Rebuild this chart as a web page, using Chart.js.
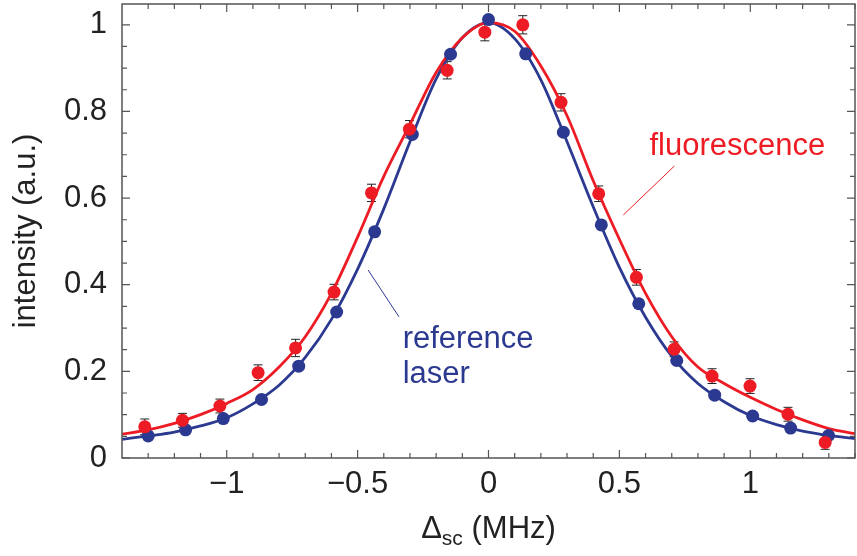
<!DOCTYPE html>
<html>
<head>
<meta charset="utf-8">
<script src="https://cdn.jsdelivr.net/npm/chart.js@4.4.1/dist/chart.umd.min.js"></script>
<style>
    html, body { margin: 0; padding: 0; background: #fff; }
    #wrap { width: 857px; height: 556px; }
</style>
</head>
<body>
<div id="wrap"><canvas id="lineChart"></canvas></div>
<script>
// measured points, reference laser (blue)
const refX = [-1.30, -1.157, -1.013, -0.867, -0.725, -0.58, -0.435, -0.291, -0.145, 0, 0.142, 0.286, 0.431, 0.574, 0.719, 0.864, 1.009, 1.154, 1.299];
const refY = [0.051, 0.065, 0.091, 0.135, 0.212, 0.337, 0.522, 0.747, 0.932, 1.012, 0.933, 0.752, 0.538, 0.356, 0.225, 0.145, 0.097, 0.069, 0.052];

// measured points, fluorescence (red) with error bars
const fluoX = [-1.313, -1.169, -1.026, -0.880, -0.737, -0.59, -0.447, -0.302, -0.158, -0.014, 0.131, 0.277, 0.421, 0.565, 0.709, 0.854, 0.999, 1.144, 1.286];
const fluoY = [0.072, 0.087, 0.12, 0.197, 0.254, 0.383, 0.612, 0.759, 0.895, 0.983, 1.0, 0.821, 0.610, 0.417, 0.251, 0.189, 0.166, 0.101, 0.036];
const fluoErr = [0.018, 0.016, 0.016, 0.018, 0.02, 0.018, 0.02, 0.02, 0.02, 0.02, 0.021, 0.02, 0.018, 0.018, 0.017, 0.017, 0.017, 0.016, 0.016];

// fitted curves
const fitX = [-1.4, -1.3, -1.2, -1.1, -1.0, -0.9, -0.8, -0.7, -0.6, -0.5, -0.4, -0.3, -0.2, -0.1, 0, 0.1, 0.2, 0.3, 0.4, 0.5, 0.6, 0.7, 0.8, 0.9, 1.0, 1.1, 1.2, 1.3, 1.4];
const refFit = [0.043, 0.051, 0.060, 0.074, 0.093, 0.125, 0.168, 0.232, 0.320, 0.436, 0.575, 0.73, 0.875, 0.97, 1.005, 0.968, 0.873, 0.73, 0.58, 0.44, 0.325, 0.235, 0.172, 0.13, 0.098, 0.077, 0.062, 0.052, 0.045];
const fluoFit = [0.055, 0.065, 0.080, 0.100, 0.126, 0.158, 0.210, 0.28, 0.38, 0.51, 0.65, 0.77, 0.89, 0.97, 1.005, 0.985, 0.905, 0.79, 0.64, 0.505, 0.38, 0.28, 0.21, 0.172, 0.140, 0.112, 0.088, 0.068, 0.056];

const xTicks = [-1, -0.5, 0, 0.5, 1];
const yTicks = [0, 0.2, 0.4, 0.6, 0.8, 1];
const xMinorStep = 0.1;
const yMinorStep = 0.05;

const RED = 'rgb(237, 28, 36)';
const BLUE = 'rgb(43, 57, 144)';
const FONT = '"Liberation Sans", Arial, Helvetica, sans-serif';

function pts(xs, ys) {
    return xs.map((x, i) => ({ x: x, y: ys[i] }));
}

function fmt(v) {
    const s = String(v);
    return v < 0 ? '\u2212' + s.slice(1) : s;
}

function noPad(s) {
    s.paddingTop = 0; s.paddingBottom = 0;
    s.paddingLeft = 0; s.paddingRight = 0;
}

// error bars behind the red points
const errorBars = {
    id: 'errorBars',
    beforeDatasetsDraw(chart) {
        const c = chart.ctx, xs = chart.scales.x, ys = chart.scales.y;
        c.save();
        c.strokeStyle = '#222';
        c.lineWidth = 1;
        fluoX.forEach((x, i) => {
            const px = xs.getPixelForValue(x);
            const top = ys.getPixelForValue(fluoY[i] + fluoErr[i]);
            const bot = ys.getPixelForValue(fluoY[i] - fluoErr[i]);
            c.beginPath();
            c.moveTo(px, top); c.lineTo(px, bot);
            c.moveTo(px - 4.5, top); c.lineTo(px + 4.5, top);
            c.moveTo(px - 4.5, bot); c.lineTo(px + 4.5, bot);
            c.stroke();
        });
        c.restore();
    }
};

// frame with inward ticks on all four sides, labels and x title
const frame = {
    id: 'frame',
    afterDraw(chart) {
        const c = chart.ctx, xs = chart.scales.x, ys = chart.scales.y;
        const a = chart.chartArea;
        c.save();
        c.strokeStyle = '#555';
        c.lineWidth = 1.5;
        c.strokeRect(a.left, a.top, a.right - a.left, a.bottom - a.top);
        c.lineWidth = 1.2;
        c.beginPath();
        for (let i = Math.ceil(xs.min / xMinorStep); i * xMinorStep <= xs.max + 1e-9; i++) {
            const v = i * xMinorStep;
            const px = xs.getPixelForValue(v);
            const len = (i % 5 === 0) ? 8 : 5;
            c.moveTo(px, a.bottom); c.lineTo(px, a.bottom - len);
            c.moveTo(px, a.top); c.lineTo(px, a.top + len);
        }
        for (let i = 0; i * yMinorStep <= ys.max + 1e-9; i++) {
            const v = i * yMinorStep;
            const py = ys.getPixelForValue(v);
            const len = (i % 4 === 0) ? 8 : 5;
            c.moveTo(a.left, py); c.lineTo(a.left + len, py);
            c.moveTo(a.right, py); c.lineTo(a.right - len, py);
        }
        c.stroke();

        // labels with leader lines (positions in data units)
        c.lineWidth = 1;
        c.strokeStyle = RED;
        c.beginPath();
        c.moveTo(xs.getPixelForValue(0.71), ys.getPixelForValue(0.674));
        c.lineTo(xs.getPixelForValue(0.515), ys.getPixelForValue(0.561));
        c.stroke();
        c.strokeStyle = BLUE;
        c.beginPath();
        c.moveTo(xs.getPixelForValue(-0.46), ys.getPixelForValue(0.434));
        c.lineTo(xs.getPixelForValue(-0.342), ys.getPixelForValue(0.326));
        c.stroke();

        c.font = '31px ' + FONT;
        c.textBaseline = 'alphabetic';
        c.textAlign = 'left';
        c.fillStyle = RED;
        c.fillText('fluorescence', xs.getPixelForValue(0.615), ys.getPixelForValue(0.70));
        c.fillStyle = BLUE;
        c.fillText('reference', xs.getPixelForValue(-0.328), ys.getPixelForValue(0.254));
        c.fillText('laser', xs.getPixelForValue(-0.328), ys.getPixelForValue(0.173));

        // x axis title with subscript
        const big = '31px ' + FONT, small = '21px ' + FONT;
        c.fillStyle = '#222';
        c.font = big; const w1 = c.measureText('\u0394').width;
        c.font = small; const w2 = c.measureText('sc').width;
        c.font = big; const w3 = c.measureText(' (MHz)').width;
        let x0 = (a.left + a.right) / 2 - (w1 + w2 + w3) / 2;
        const base = a.bottom + 80;
        c.font = big; c.fillText('\u0394', x0, base);
        c.font = small; c.fillText('sc', x0 + w1, base + 7);
        c.font = big; c.fillText(' (MHz)', x0 + w1 + w2, base);
        c.restore();
    }
};

const ctx = document.getElementById('lineChart').getContext('2d');
new Chart(ctx, {
    type: 'scatter',
    data: {
        datasets: [
            {
                label: 'fluorescence',
                data: pts(fluoX, fluoY),
                backgroundColor: RED,
                borderColor: RED,
                pointRadius: 6.5,
                pointBorderWidth: 0,
                order: 0
            },
            {
                label: 'reference laser',
                data: pts(refX, refY),
                backgroundColor: BLUE,
                borderColor: BLUE,
                pointRadius: 6.5,
                pointBorderWidth: 0,
                order: 1
            },
            {
                label: 'fluorescence fit',
                data: pts(fitX, fluoFit),
                showLine: true,
                borderColor: RED,
                borderWidth: 2.8,
                pointRadius: 0,
                cubicInterpolationMode: 'monotone',
                order: 2
            },
            {
                label: 'reference fit',
                data: pts(fitX, refFit),
                showLine: true,
                borderColor: BLUE,
                borderWidth: 2.8,
                pointRadius: 0,
                cubicInterpolationMode: 'monotone',
                order: 3
            }
        ]
    },
    options: {
        responsive: true,
        maintainAspectRatio: false,
        animation: false,
        layout: { autoPadding: false, padding: { top: 4, right: 2, left: 0, bottom: 0 } },
        scales: {
            x: {
                type: 'linear',
                min: -1.4,
                max: 1.4,
                afterBuildTicks: s => { s.ticks = xTicks.map(v => ({ value: v })); },
                afterFit: s => { s.height = 98; noPad(s); },
                grid: { display: false, drawTicks: false },
                border: { display: false },
                ticks: {
                    padding: 8,
                    color: '#222',
                    font: { family: FONT, size: 31 },
                    callback: v => fmt(v),
                    maxRotation: 0
                }
            },
            y: {
                min: 0,
                max: 1.048,
                afterBuildTicks: s => { s.ticks = yTicks.map(v => ({ value: v })); },
                afterFit: s => { s.width = 122; noPad(s); },
                grid: { display: false, drawTicks: false },
                border: { display: false },
                ticks: {
                    padding: 15,
                    color: '#222',
                    font: { family: FONT, size: 31 },
                    callback: v => fmt(v)
                },
                title: {
                    display: true,
                    text: 'intensity (a.u.)',
                    color: '#222',
                    font: { family: FONT, size: 31 },
                    padding: { top: 8, bottom: 0 }
                }
            }
        },
        plugins: {
            legend: { display: false },
            tooltip: { enabled: false }
        }
    },
    plugins: [errorBars, frame]
});
</script>
</body>
</html>
